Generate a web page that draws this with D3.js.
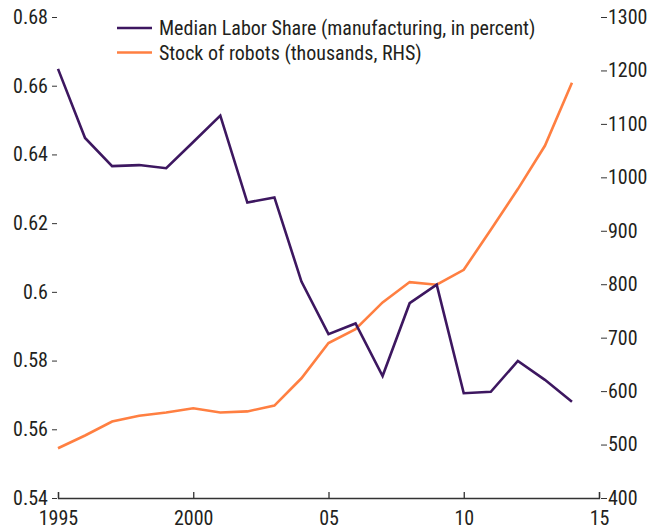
<!DOCTYPE html>
<html>
<head>
<meta charset="utf-8">
<script src="https://cdn.jsdelivr.net/npm/d3@7"></script>
<style>
  body { margin: 0; background: #fff; }
  svg text { font-family: "Liberation Sans Narrow", "Arial Narrow", "Roboto Condensed", "Liberation Sans", sans-serif; fill: #231f20; }
</style>
</head>
<body>
<svg id="chart"></svg>
<script>
const years = d3.range(1995, 2015);
const laborShare = [0.6649, 0.6448, 0.6366, 0.6369, 0.6360, 0.6436, 0.6513, 0.6260, 0.6275, 0.6030,
  0.5877, 0.5908, 0.5755, 0.5967, 0.6021, 0.5705, 0.5709, 0.5799, 0.5744, 0.5680];
const robots = [493, 517, 543, 554, 560, 568, 560, 562, 573, 624,
  690, 716, 766, 804, 799, 827, 902, 978, 1059, 1177];
const leftTicks = [0.54, 0.56, 0.58, 0.6, 0.62, 0.64, 0.66, 0.68];
const rightTicks = [400, 500, 600, 700, 800, 900, 1000, 1100, 1200, 1300];
const xTicks = [1995, 2000, 2005, 2010, 2015];
const xTickLabels = ["1995", "2000", "05", "10", "15"];
const legendLabels = ["Median Labor Share (manufacturing, in percent)", "Stock of robots (thousands, RHS)"];
const colors = ["#3d1760", "#ff7f41"];

const W = 661, H = 529;
const margin = { top: 17, right: 62, bottom: 31, left: 58 };
const width = W - margin.left - margin.right;
const height = H - margin.top - margin.bottom;
const fs = "20px";

const svg = d3.select("#chart").attr("width", W).attr("height", H);
const g = svg.append("g").attr("transform", `translate(${margin.left},${margin.top})`);

const x = d3.scaleLinear().domain([1995, 2015]).range([0, width]);
const yL = d3.scaleLinear().domain([0.54, 0.68]).range([height, 0]);
const yR = d3.scaleLinear().domain([400, 1300]).range([height, 0]);

// bottom axis, ticks pointing up
const xAxis = g.append("g")
  .attr("transform", `translate(0,${height})`)
  .call(d3.axisBottom(x).tickValues(xTicks).tickSize(-6).tickPadding(17)
    .tickFormat((d, i) => xTickLabels[i]));
xAxis.select(".domain").attr("stroke", "#333").attr("stroke-width", 1.3);
xAxis.selectAll(".tick line").attr("stroke", "#333").attr("stroke-width", 1.3);
xAxis.selectAll("text").style("font-size", fs).attr("dy", "0.5em");

// left axis: ticks only
const lAxis = g.append("g")
  .call(d3.axisLeft(yL).tickValues(leftTicks).tickSize(5).tickPadding(4)
    .tickFormat(d => d === 0.6 ? "0.6" : d3.format(".2f")(d)));
lAxis.select(".domain").remove();
lAxis.selectAll(".tick line").attr("stroke", "#333").attr("transform", "translate(-1,0)");
lAxis.selectAll("text").style("font-size", fs).attr("x", -10);

// right axis: ticks only
const rAxis = g.append("g")
  .attr("transform", `translate(${width},0)`)
  .call(d3.axisRight(yR).tickValues(rightTicks).tickSize(6).tickPadding(3).tickFormat(d3.format("d")));
rAxis.select(".domain").remove();
rAxis.selectAll(".tick line").attr("stroke", "#333").attr("transform", "translate(2,0)");
rAxis.selectAll("text").style("font-size", fs).attr("x", 9);

const lineL = d3.line().x((d, i) => x(years[i])).y(d => yL(d));
const lineR = d3.line().x((d, i) => x(years[i])).y(d => yR(d));

g.append("path").datum(robots)
  .attr("d", lineR).attr("fill", "none")
  .attr("stroke", colors[1]).attr("stroke-width", 2.6);

g.append("path").datum(laborShare)
  .attr("d", lineL).attr("fill", "none")
  .attr("stroke", colors[0]).attr("stroke-width", 2.6);

// legend
const legend = svg.append("g").attr("transform", "translate(117,28)");
legendLabels.forEach((lab, i) => {
  const row = legend.append("g").attr("transform", `translate(0,${i * 24.5})`);
  row.append("line").attr("x1", 0).attr("x2", 35).attr("y1", 0).attr("y2", 0)
    .attr("stroke", colors[i]).attr("stroke-width", 2.6);
  row.append("text").attr("x", 42).attr("y", 0).attr("dy", "0.35em")
    .style("font-size", fs).text(lab);
});
</script>
</body>
</html>
